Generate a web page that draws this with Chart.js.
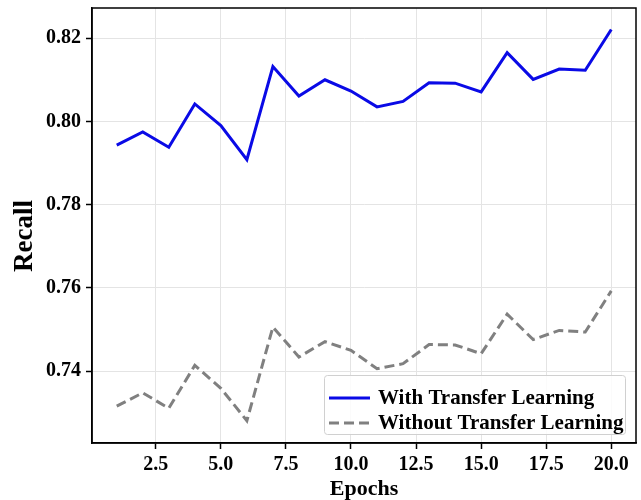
<!DOCTYPE html>
<html>
<head>
<meta charset="utf-8">
<script src="https://cdn.jsdelivr.net/npm/chart.js@4/dist/chart.umd.min.js"></script>
<style>
  html, body { margin: 0; padding: 0; background: #fff; }
  canvas { display: block; }
</style>
</head>
<body>
<canvas id="c" width="641" height="500"></canvas>
<script>
// Recall per training epoch, with and without transfer learning
const epochs = [1, 2, 3, 4, 5, 6, 7, 8, 9, 10, 11, 12, 13, 14, 15, 16, 17, 18, 19, 20];
const withTransfer = [0.7943, 0.7975, 0.7938, 0.8042, 0.7990, 0.7908, 0.8132, 0.8061, 0.8100, 0.8073,
                      0.8035, 0.8048, 0.8093, 0.8092, 0.8071, 0.8165, 0.8101, 0.8126, 0.8123, 0.8221];
const withoutTransfer = [0.7316, 0.7348, 0.7311, 0.7414, 0.7359, 0.7281, 0.7506, 0.7434, 0.7471, 0.7450,
                         0.7406, 0.7418, 0.7464, 0.7463, 0.7442, 0.7537, 0.7476, 0.7498, 0.7494, 0.7593];
const xTicks = [2.5, 5.0, 7.5, 10.0, 12.5, 15.0, 17.5, 20.0];
const yTicks = [0.74, 0.76, 0.78, 0.80, 0.82];
const seriesNames = ['With Transfer Learning', 'Without Transfer Learning'];

const FONT = "'Liberation Serif', 'Times New Roman', serif";
const BLUE = '#0a0ae6';
const GRAY = '#808080';

// frame around the plot area plus the inset legend and rotated y title
const framePlugin = {
  id: 'frame',
  afterDraw(chart) {
    const { ctx, chartArea: a } = chart;
    ctx.save();
    ctx.strokeStyle = '#000';
    ctx.lineWidth = 1.5;
    ctx.strokeRect(a.left, a.top, a.right - a.left, a.bottom - a.top);

    // legend box
    const bw = 301, bh = 59;
    const bx = a.right - 11 - bw, by = a.bottom - 9 - bh;
    ctx.fillStyle = 'rgba(255,255,255,0.85)';
    ctx.strokeStyle = '#d0d0d0';
    ctx.lineWidth = 1;
    ctx.beginPath();
    if (ctx.roundRect) ctx.roundRect(bx + 0.5, by + 0.5, bw, bh, 3); else ctx.rect(bx + 0.5, by + 0.5, bw, bh);
    ctx.fill();
    ctx.stroke();

    const styles = [
      { color: BLUE, dash: [] },
      { color: GRAY, dash: [10, 5] }
    ];
    ctx.font = "bold 21px " + FONT;
    ctx.textBaseline = 'middle';
    ctx.textAlign = 'left';
    seriesNames.forEach((name, i) => {
      const cy = by + 23 + i * 25;
      ctx.strokeStyle = styles[i].color;
      ctx.lineWidth = 3;
      ctx.setLineDash(styles[i].dash);
      ctx.beginPath();
      ctx.moveTo(bx + 5, cy);
      ctx.lineTo(bx + 46, cy);
      ctx.stroke();
      ctx.setLineDash([]);
      ctx.fillStyle = '#000';
      ctx.fillText(name, bx + 54, cy + 1);
    });

    // y axis title
    ctx.translate(25, 236);
    ctx.rotate(-Math.PI / 2);
    ctx.font = "bold 27px " + FONT;
    ctx.textAlign = 'center';
    ctx.textBaseline = 'middle';
    ctx.fillStyle = '#000';
    ctx.fillText('Recall', 0, 0);
    ctx.restore();
  }
};

new Chart(document.getElementById('c'), {
  type: 'line',
  data: {
    labels: epochs,
    datasets: [
      {
        label: seriesNames[0],
        data: epochs.map((e, i) => ({ x: e, y: withTransfer[i] })),
        borderColor: BLUE,
        borderWidth: 3,
        pointRadius: 0,
        tension: 0,
        fill: false
      },
      {
        label: seriesNames[1],
        data: epochs.map((e, i) => ({ x: e, y: withoutTransfer[i] })),
        borderColor: GRAY,
        borderWidth: 3,
        borderDash: [10, 5],
        pointRadius: 0,
        tension: 0,
        fill: false
      }
    ]
  },
  options: {
    responsive: false,
    animation: false,
    devicePixelRatio: 1,
    layout: { padding: { left: 0, top: 8, right: 5, bottom: 0 } },
    plugins: {
      legend: { display: false },
      tooltip: { enabled: false }
    },
    scales: {
      x: {
        type: 'linear',
        min: 0.05,
        max: 20.95,
        afterBuildTicks: s => { s.ticks = xTicks.map(v => ({ value: v })); },
        afterFit: s => { s.height = 57; s.paddingLeft = 0; s.paddingRight = 0; },
        ticks: {
          color: '#000',
          font: { family: FONT, size: 20, weight: 'bold' },
          padding: 4,
          maxRotation: 0,
          autoSkip: false,
          callback: v => Number(v).toFixed(1)
        },
        grid: { color: '#e4e4e4', lineWidth: 1, tickColor: '#000', tickLength: 6, tickWidth: 1.5 },
        border: { display: true, color: '#000', width: 1.5 },
        title: {
          display: true,
          text: 'Epochs',
          color: '#000',
          font: { family: FONT, size: 22, weight: 'bold', lineHeight: 1 },
          padding: { top: 0, bottom: 0 }
        }
      },
      y: {
        type: 'linear',
        min: 0.72275,
        max: 0.82725,
        afterBuildTicks: s => { s.ticks = yTicks.map(v => ({ value: v })); },
        afterFit: s => { s.width = 92; s.paddingTop = 0; s.paddingBottom = 0; },
        ticks: {
          color: '#000',
          font: { family: FONT, size: 20, weight: 'bold' },
          padding: 5,
          autoSkip: false,
          callback: v => Number(v).toFixed(2)
        },
        grid: { color: '#e4e4e4', lineWidth: 1, tickColor: '#000', tickLength: 6, tickWidth: 1.5 },
        border: { display: true, color: '#000', width: 1.5 }
      }
    }
  },
  plugins: [framePlugin]
});
</script>
</body>
</html>
